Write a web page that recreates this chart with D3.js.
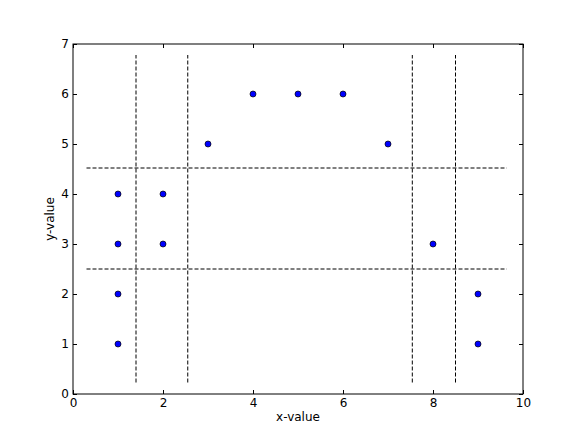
<!DOCTYPE html>
<html lang="en">
<head>
    <meta charset="UTF-8">
    <title>Scatter</title>
    <script src="https://d3js.org/d3.v7.min.js"></script>
    <style>
        body { margin: 0; padding: 0; background: #fff; }
        svg { font-family: "DejaVu Sans", sans-serif; font-size: 12px; }
    </style>
</head>
<body>
    <div id="chart"></div>
    <script>
        var xs = [1, 1, 1, 1, 2, 2, 3, 4, 5, 6, 7, 8, 9, 9];
        var ys = [1, 2, 3, 4, 3, 4, 5, 6, 6, 6, 5, 3, 1, 2];
        var vLines = [1.4, 2.55, 7.54, 8.5];
        var hLines = [2.5, 4.52];
        var vExtent = [0.23, 6.78];
        var hExtent = [0.3, 9.64];
        var xTicks = [0, 2, 4, 6, 8, 10];
        var yTicks = [0, 1, 2, 3, 4, 5, 6, 7];

        var width = 581, height = 439;
        var pLeft = 73, pRight = 523, pTop = 44, pBottom = 394;

        var svg = d3.select("#chart").append("svg")
            .attr("width", width)
            .attr("height", height);

        var x = d3.scaleLinear().domain([0, 10]).range([pLeft, pRight]);
        var y = d3.scaleLinear().domain([0, 7]).range([pBottom, pTop]);

        // dashed guide lines
        svg.selectAll(".vline")
            .data(vLines)
            .enter().append("line")
            .attr("x1", function (d) { return x(d); })
            .attr("x2", function (d) { return x(d); })
            .attr("y1", y(vExtent[0]))
            .attr("y2", y(vExtent[1]))
            .attr("stroke", "#000")
            .attr("stroke-width", 1)
            .attr("stroke-dasharray", "4,2");

        svg.selectAll(".hline")
            .data(hLines)
            .enter().append("line")
            .attr("y1", function (d) { return y(d); })
            .attr("y2", function (d) { return y(d); })
            .attr("x1", x(hExtent[0]))
            .attr("x2", x(hExtent[1]))
            .attr("stroke", "#000")
            .attr("stroke-width", 1)
            .attr("stroke-dasharray", "4,2");

        // points
        svg.selectAll("circle")
            .data(xs)
            .enter().append("circle")
            .attr("cx", function (d) { return x(d); })
            .attr("cy", function (d, i) { return y(ys[i]); })
            .attr("r", 3)
            .attr("fill", "#0000ff")
            .attr("stroke", "#000")
            .attr("stroke-width", 0.7);

        // axes: inside ticks on all four sides
        svg.append("g").attr("transform", "translate(0," + pBottom + ")")
            .call(d3.axisBottom(x).tickValues(xTicks).tickSizeInner(-4).tickSizeOuter(0).tickPadding(4).tickFormat(d3.format("d")));
        svg.append("g").attr("transform", "translate(0," + pTop + ")")
            .call(d3.axisTop(x).tickValues(xTicks).tickSizeInner(-4).tickSizeOuter(0).tickFormat(""));
        svg.append("g").attr("transform", "translate(" + pLeft + ",0)")
            .call(d3.axisLeft(y).tickValues(yTicks).tickSizeInner(-4).tickSizeOuter(0).tickPadding(4).tickFormat(d3.format("d")));
        svg.append("g").attr("transform", "translate(" + pRight + ",0)")
            .call(d3.axisRight(y).tickValues(yTicks).tickSizeInner(-4).tickSizeOuter(0).tickFormat(""));

        svg.selectAll(".domain").remove();
        svg.selectAll(".tick text").attr("font-size", 12).attr("font-family", "DejaVu Sans, sans-serif").attr("fill", "#000");
        svg.selectAll(".tick line").attr("stroke", "#000");

        svg.append("rect")
            .attr("x", pLeft).attr("y", pTop)
            .attr("width", pRight - pLeft).attr("height", pBottom - pTop)
            .attr("fill", "none").attr("stroke", "#000").attr("stroke-width", 1);

        svg.append("text")
            .attr("x", (pLeft + pRight) / 2).attr("y", 421)
            .attr("text-anchor", "middle")
            .text("x-value");
        svg.append("text")
            .attr("transform", "translate(54," + ((pTop + pBottom) / 2) + ") rotate(-90)")
            .attr("text-anchor", "middle")
            .text("y-value");
    </script>
</body>
</html>
